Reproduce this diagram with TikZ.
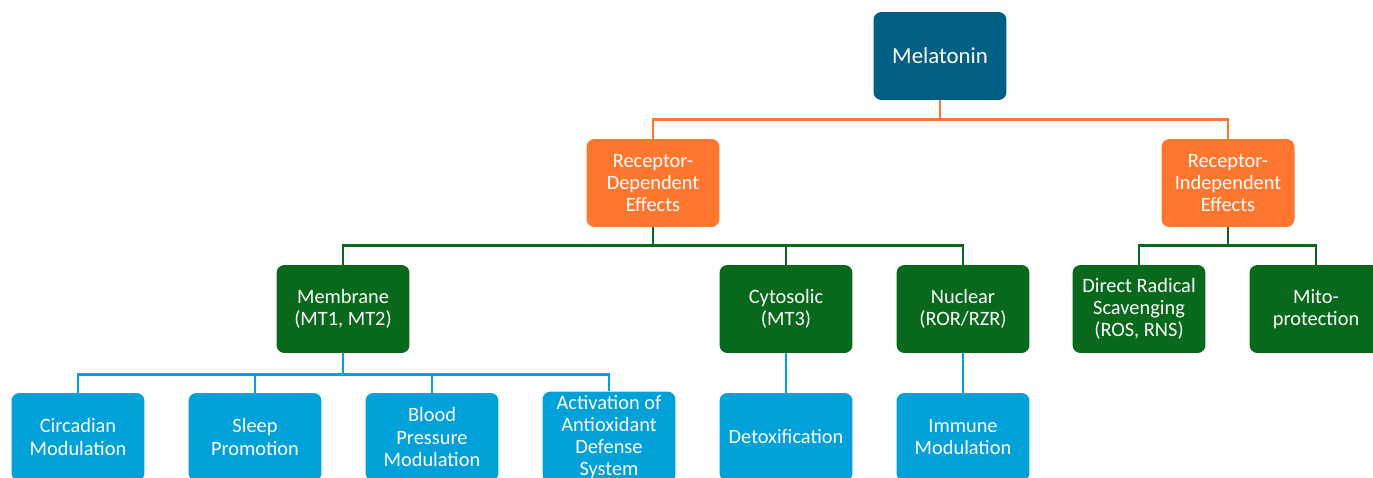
\documentclass[tikz,border=0pt]{standalone}
\usepackage{fontspec}
\setmainfont{Carlito}
\usepackage{xcolor}
\definecolor{topteal}{HTML}{005F83}
\definecolor{effectorange}{HTML}{FF762E}
\definecolor{sitegreen}{HTML}{08691C}
\definecolor{actionblue}{HTML}{00A0D8}
\tikzset{
  box/.style={rounded corners=4.5pt, minimum width=2.66cm, minimum height=1.76cm,
    text=white, align=center, inner sep=2pt,
    font=\fontsize{11.6}{12.6}\selectfont},
  topbox/.style={box, fill=topteal, font=\fontsize{13}{15}\selectfont},
  effectbox/.style={box, fill=effectorange},
  sitebox/.style={box, fill=sitegreen},
  actionbox/.style={box, fill=actionblue},
  orangeline/.style={draw=effectorange, line width=1.4pt},
  greenline/.style={draw=sitegreen, line width=1.4pt},
  blueline/.style={draw=actionblue, line width=1.4pt}
}
\begin{document}
\begin{tikzpicture}[x=0.02cm, y=-0.02cm]
    \useasboundingbox (0,0) rectangle (1373,477);
    \clip (0,0) rectangle (1373,477);

    % Top
    \node[topbox] (mel) at (940,56) {Melatonin};

    % Receptor level
    \node[effectbox] (dep) at (653,183) {Receptor-\\Dependent\\Effects};
    \node[effectbox] (indep) at (1228,183) {Receptor-\\Independent\\Effects};

    % Receptor sites
    \node[sitebox] (mem) at (343,309) {Membrane\\(MT1, MT2)};
    \node[sitebox] (cyt) at (786,309) {Cytosolic\\(MT3)};
    \node[sitebox] (nuc) at (963,309) {Nuclear\\(ROR/RZR)};
    \node[sitebox] (rad) at (1139,309) {Direct Radical\\Scavenging\\(ROS, RNS)};
    \node[sitebox] (mito) at (1316,309) {Mito-\\protection};

    % Actions
    \node[actionbox] (circ) at (78,437) {Circadian\\Modulation};
    \node[actionbox] (sleep) at (255,437) {Sleep\\Promotion};
    \node[actionbox] (bp) at (432,437) {Blood\\Pressure\\Modulation};
    \node[actionbox] (anti) at (609,437) {Activation of\\Antioxidant\\Defense\\System};
    \node[actionbox] (detox) at (786,437) {Detoxification};
    \node[actionbox] (immune) at (963,437) {Immune\\Modulation};

    % Connectors
    \draw[orangeline] (mel.south) -- ++(0,19) -| (dep.north);
    \draw[orangeline] (mel.south) -- ++(0,19) -| (indep.north);

    \draw[greenline] (dep.south) -- ++(0,18) -| (mem.north);
    \draw[greenline] (dep.south) -- ++(0,18) -| (cyt.north);
    \draw[greenline] (dep.south) -- ++(0,18) -| (nuc.north);
    \draw[greenline] (indep.south) -- ++(0,18) -| (rad.north);
    \draw[greenline] (indep.south) -- ++(0,18) -| (mito.north);

    \foreach \n in {circ,sleep,bp,anti}
      \draw[blueline] (mem.south) -- ++(0,21) -| (\n.north);
    \draw[blueline] (cyt.south) -- (detox.north);
    \draw[blueline] (nuc.south) -- (immune.north);
\end{tikzpicture}
\end{document}
